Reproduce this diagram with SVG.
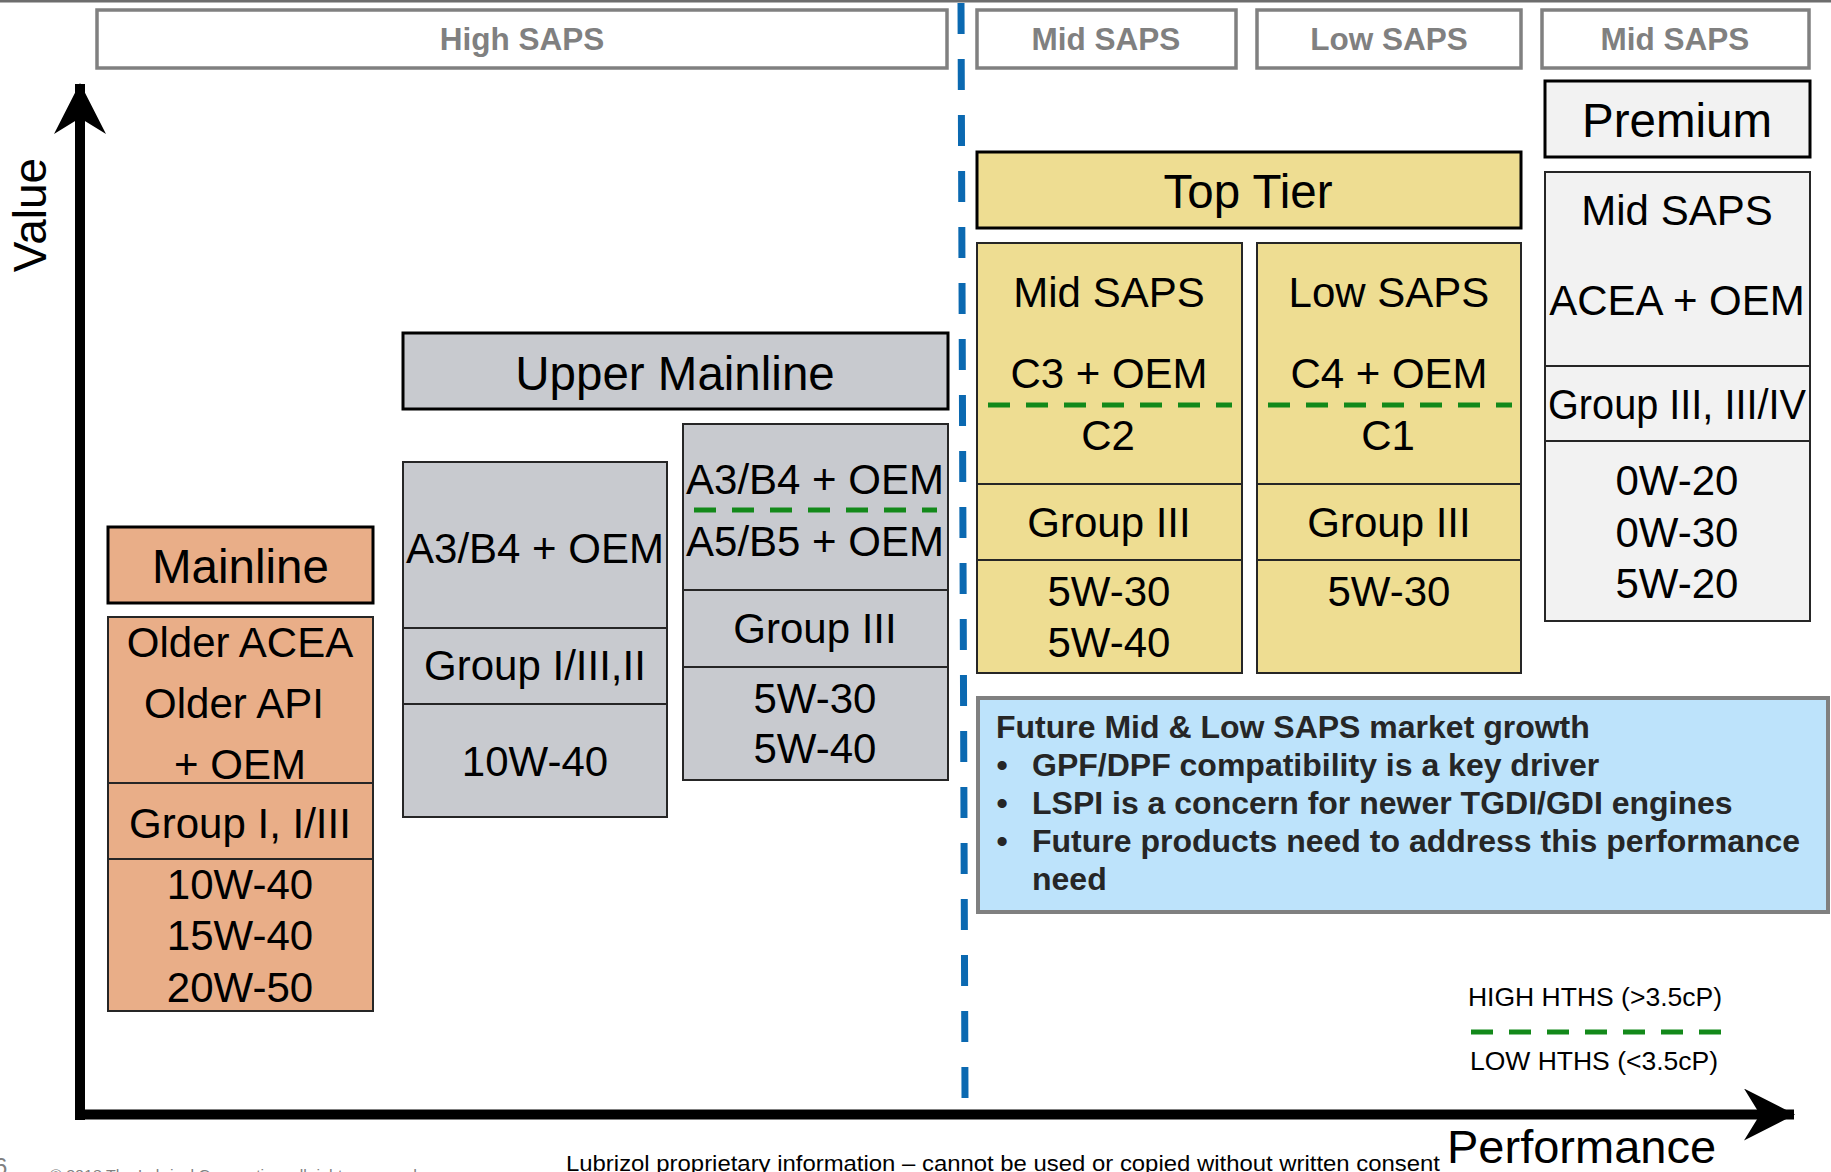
<svg xmlns="http://www.w3.org/2000/svg" width="1831" height="1172" viewBox="0 0 1831 1172">
<style>
text{font-family:"Liberation Sans",Arial,sans-serif;fill:#000}
.saps{fill:#fff;stroke:#808080;stroke-width:3.5}
.sapsT{font-size:31.5px;font-weight:bold;fill:#808080;text-anchor:middle}
.hdr{stroke:#000;stroke-width:3}
.col{stroke:#262626;stroke-width:2}
.div{stroke:#262626;stroke-width:2}
.or{fill:#E9AE88}.gr{fill:#C8CACF}.ye{fill:#EEDD92}.lg{fill:#F2F2F2}
.t42{font-size:42px;text-anchor:middle}
.t47{font-size:47.5px;text-anchor:middle}
.gd{stroke:#13891A;stroke-width:5;stroke-dasharray:22 16;fill:none}
.bx{font-size:32px;font-weight:bold;fill:#262626}
.lgd{font-size:26.5px;text-anchor:middle}
</style>
<defs>
<marker id="ah" markerUnits="userSpaceOnUse" viewBox="0 0 52 52" refX="50" refY="26" markerWidth="52" markerHeight="52" orient="auto">
<path d="M0,0 L51,26 L0,52 L16,26 Z" fill="#000"/>
</marker>
</defs>
<rect width="1831" height="1172" fill="#fff"/>
<line x1="0" y1="1" x2="1831" y2="1" stroke="#6d6d6d" stroke-width="3"/>

<g id="saps-headers">
<rect class="saps" x="97" y="10" width="850" height="58"/>
<text class="sapsT" x="522" y="50">High SAPS</text>
<rect class="saps" x="977" y="10" width="259" height="58"/>
<text class="sapsT" x="1106" y="50">Mid SAPS</text>
<rect class="saps" x="1257" y="10" width="264" height="58"/>
<text class="sapsT" x="1389" y="50">Low SAPS</text>
<rect class="saps" x="1542" y="10" width="267" height="58"/>
<text class="sapsT" x="1675" y="50">Mid SAPS</text>
</g>

<g id="connectors">
<line x1="961" y1="3" x2="965" y2="1098" stroke="#0B69B1" stroke-width="7" stroke-dasharray="31 25"/>
<line x1="80" y1="1120" x2="80" y2="84" stroke="#000" stroke-width="10" marker-end="url(#ah)"/>
<line x1="75" y1="1114.5" x2="1794" y2="1114.5" stroke="#000" stroke-width="10" marker-end="url(#ah)"/>
</g>

<text x="46" y="215" font-size="46" text-anchor="middle" transform="rotate(-90 46 215)">Value</text>
<text x="1447" y="1163" font-size="47">Performance</text>

<g id="mainline">
<rect class="or hdr" x="108" y="527" width="265" height="76"/>
<text class="t47" x="240.5" y="583">Mainline</text>
</g>
<g id="mainline-detail">
<rect class="or col" x="108" y="617" width="265" height="394"/>
<line class="div" x1="108" y1="783" x2="373" y2="783"/>
<line class="div" x1="108" y1="859" x2="373" y2="859"/>
<text class="t42" x="240" y="657">Older ACEA</text>
<text class="t42" x="234" y="718">Older API</text>
<text class="t42" x="240" y="779">+ OEM</text>
<text class="t42" x="240" y="838">Group I, I/III</text>
<text class="t42" x="240" y="899">10W-40</text>
<text class="t42" x="240" y="950">15W-40</text>
<text class="t42" x="240" y="1002">20W-50</text>
</g>

<g id="upper-mainline">
<rect class="gr hdr" x="403" y="333" width="545" height="76"/>
<text class="t47" x="675" y="390">Upper Mainline</text>
</g>
<g id="upper-mainline-a3b4">
<rect class="gr col" x="403" y="462" width="264" height="355"/>
<line class="div" x1="403" y1="628" x2="667" y2="628"/>
<line class="div" x1="403" y1="704" x2="667" y2="704"/>
<text class="t42" x="535" y="563">A3/B4 + OEM</text>
<text class="t42" x="535" y="680">Group I/III,II</text>
<text class="t42" x="535" y="776">10W-40</text>
</g>
<g id="upper-mainline-a5b5">
<rect class="gr col" x="683" y="424" width="265" height="356"/>
<line class="div" x1="683" y1="590" x2="948" y2="590"/>
<line class="div" x1="683" y1="667" x2="948" y2="667"/>
<text class="t42" x="815" y="494">A3/B4 + OEM</text>
<line class="gd" x1="694" y1="510" x2="937" y2="510"/>
<text class="t42" x="815" y="556">A5/B5 + OEM</text>
<text class="t42" x="815" y="643">Group III</text>
<text class="t42" x="815" y="713">5W-30</text>
<text class="t42" x="815" y="763">5W-40</text>
</g>

<g id="top-tier">
<rect class="ye hdr" x="977" y="152" width="544" height="76"/>
<text x="1248" y="208" font-size="47.5" text-anchor="middle">Top Tier</text>
</g>
<g id="top-tier-mid">
<rect class="ye col" x="977" y="243" width="265" height="430"/>
<line class="div" x1="977" y1="484" x2="1242" y2="484"/>
<line class="div" x1="977" y1="560" x2="1242" y2="560"/>
<text class="t42" x="1109" y="307">Mid SAPS</text>
<text class="t42" x="1109" y="388">C3 + OEM</text>
<line class="gd" x1="988" y1="405" x2="1232" y2="405"/>
<text class="t42" x="1108" y="450">C2</text>
<text class="t42" x="1109" y="537">Group III</text>
<text class="t42" x="1109" y="606">5W-30</text>
<text class="t42" x="1109" y="657">5W-40</text>
</g>
<g id="top-tier-low">
<rect class="ye col" x="1257" y="243" width="264" height="430"/>
<line class="div" x1="1257" y1="484" x2="1521" y2="484"/>
<line class="div" x1="1257" y1="560" x2="1521" y2="560"/>
<text class="t42" x="1389" y="307">Low SAPS</text>
<text class="t42" x="1389" y="388">C4 + OEM</text>
<line class="gd" x1="1268" y1="405" x2="1512" y2="405"/>
<text class="t42" x="1388" y="450">C1</text>
<text class="t42" x="1389" y="537">Group III</text>
<text class="t42" x="1389" y="606">5W-30</text>
</g>

<g id="premium">
<rect class="lg hdr" x="1545" y="81" width="265" height="76"/>
<text class="t47" x="1677" y="137">Premium</text>
</g>
<g id="premium-detail">
<rect class="lg col" x="1545" y="172" width="265" height="449"/>
<line class="div" x1="1545" y1="366" x2="1810" y2="366"/>
<line class="div" x1="1545" y1="441" x2="1810" y2="441"/>
<text class="t42" x="1677" y="225">Mid SAPS</text>
<text class="t42" x="1677" y="315">ACEA + OEM</text>
<text class="t42" x="1677" y="419" textLength="258" lengthAdjust="spacingAndGlyphs">Group III, III/IV</text>
<text class="t42" x="1677" y="495">0W-20</text>
<text class="t42" x="1677" y="547">0W-30</text>
<text class="t42" x="1677" y="598">5W-20</text>
</g>

<g id="growth-note">
<rect x="978" y="698" width="850" height="214" fill="#BDE3FB" stroke="#808080" stroke-width="4"/>
<text class="bx" x="996" y="738">Future Mid &amp; Low SAPS market growth</text>
<text class="bx" x="1002" y="776" text-anchor="middle">•</text>
<text class="bx" x="1032" y="776">GPF/DPF compatibility is a key driver</text>
<text class="bx" x="1002" y="814" text-anchor="middle">•</text>
<text class="bx" x="1032" y="814">LSPI is a concern for newer TGDI/GDI engines</text>
<text class="bx" x="1002" y="852" text-anchor="middle">•</text>
<text class="bx" x="1032" y="852">Future products need to address this performance</text>
<text class="bx" x="1032" y="890">need</text>
</g>

<g id="legend">
<text class="lgd" x="1595" y="1006">HIGH HTHS (&gt;3.5cP)</text>
<line class="gd" x1="1471" y1="1032" x2="1723" y2="1032"/>
<text class="lgd" x="1594" y="1070">LOW HTHS (&lt;3.5cP)</text>
</g>

<g id="footer">
<text x="566" y="1171" font-size="22" textLength="874" lengthAdjust="spacingAndGlyphs">Lubrizol proprietary information – cannot be used or copied without written consent</text>
<text x="50" y="1180" font-size="15" style="fill:#808080" textLength="367" lengthAdjust="spacingAndGlyphs">© 2018 The Lubrizol Corporation, all rights reserved</text>
<text x="-6" y="1175" font-size="24" style="fill:#808080">6</text>
</g>
</svg>
